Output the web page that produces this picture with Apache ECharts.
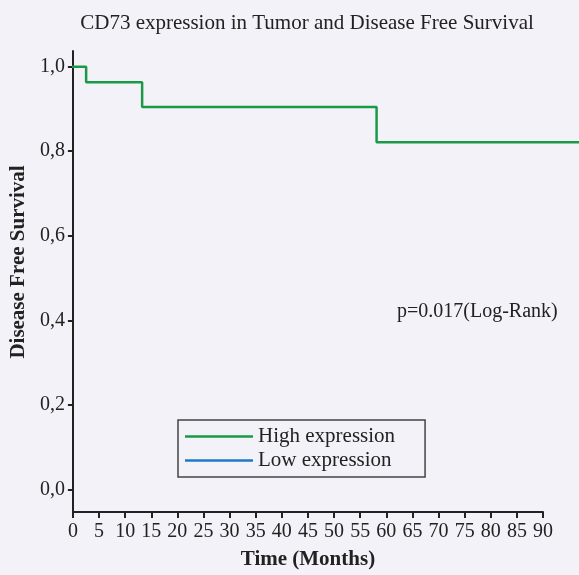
<!DOCTYPE html>
<html>
<head>
<meta charset="utf-8">
<script src="https://cdn.jsdelivr.net/npm/echarts@6/dist/echarts.min.js"></script>
<style>
  html, body { margin: 0; padding: 0; background: #f3f2f8; }
  #chart { width: 579px; height: 575px; }
</style>
</head>
<body>
<div id="chart"></div>
<script>
// Kaplan–Meier step points (time in months, disease free survival)
const highTimes = [0, 2.7, 13.4, 58.2, 96.9];
const highSurvival = [1.0, 0.964, 0.906, 0.823, 0.823];
const lowTimes = [];
const lowSurvival = [];

const xTicks = [0, 5, 10, 15, 20, 25, 30, 35, 40, 45, 50, 55, 60, 65, 70, 75, 80, 85, 90];
const yTicks = [0, 0.2, 0.4, 0.6, 0.8, 1.0];

const seriesNames = ['High expression', 'Low expression'];
const seriesColors = ['#1a9a48', '#1f78c8'];

const FONT = '"Liberation Serif", "DejaVu Serif", serif';
const INK = '#222222';
const Y_MIN = -0.053, Y_MAX = 1.037;

const zip = (xs, ys) => xs.map((x, i) => [x, ys[i]]);

const chart = echarts.init(document.getElementById('chart'), null, { renderer: 'canvas' });

chart.setOption({
  backgroundColor: '#f3f2f8',
  animation: false,
  title: {
    text: 'CD73 expression in Tumor and Disease Free Survival',
    left: 302, top: 8, textAlign: 'center',
    textStyle: { fontFamily: FONT, fontSize: 21, fontWeight: 'normal', color: INK }
  },
  legend: {
    data: seriesNames,
    orient: 'vertical',
    left: 178, top: 420,
    icon: 'rect',
    itemWidth: 68, itemHeight: 2.5,
    itemGap: 3,
    padding: [6, 30, 6, 7],
    borderColor: '#444', borderWidth: 1.5,
    textStyle: { fontFamily: FONT, fontSize: 21, color: INK }
  },
  graphic: [{
    type: 'text',
    left: 397, top: 302,
    style: { text: 'p=0.017(Log-Rank)', font: '20px ' + FONT, fill: INK }
  }],
  grid: [
    // visible axes frame
    { left: 72, top: 51, width: 471, height: 465 },
    // plotting area (curve continues beyond the last labelled tick)
    { left: 72, top: 51, right: 0, height: 465 }
  ],
  xAxis: [{
    gridIndex: 0, type: 'value', min: 0, max: 90, interval: 5,
    name: 'Time (Months)', nameLocation: 'middle', nameGap: 37,
    nameTextStyle: { fontFamily: FONT, fontSize: 21, fontWeight: 'bold', color: INK },
    axisLine: { show: true, onZero: false, lineStyle: { color: INK, width: 2 } },
    axisTick: { show: true, inside: false, length: 6, lineStyle: { color: INK, width: 2 },
                customValues: xTicks },
    axisLabel: { fontFamily: FONT, fontSize: 20, color: INK, margin: 10, customValues: xTicks },
    splitLine: { show: false }
  }, {
    gridIndex: 1, type: 'value', min: 0, max: (579 - 72) / (471 / 90),
    show: false
  }],
  yAxis: [{
    gridIndex: 0, type: 'value', min: Y_MIN, max: Y_MAX,
    name: 'Disease Free Survival', nameLocation: 'middle', nameGap: 37,
    nameTextStyle: { fontFamily: FONT, fontSize: 21, fontWeight: 'bold', color: INK,
                     padding: [0, 0, 0, 39] },
    axisLine: { show: true, onZero: false, lineStyle: { color: INK, width: 2 } },
    axisTick: { show: true, inside: false, length: 5, lineStyle: { color: INK, width: 2 },
                customValues: yTicks },
    axisLabel: { fontFamily: FONT, fontSize: 20, color: INK, margin: 8, customValues: yTicks,
                 formatter: v => v.toFixed(1).replace('.', ',') },
    splitLine: { show: false }
  }, {
    gridIndex: 1, type: 'value', min: Y_MIN, max: Y_MAX, show: false
  }],
  series: [{
    name: seriesNames[0], type: 'line', step: 'end',
    xAxisIndex: 1, yAxisIndex: 1,
    data: zip(highTimes, highSurvival),
    showSymbol: false, symbol: 'none',
    color: seriesColors[0],
    lineStyle: { color: seriesColors[0], width: 2.5 }
  }, {
    name: seriesNames[1], type: 'line', step: 'end',
    xAxisIndex: 1, yAxisIndex: 1,
    data: zip(lowTimes, lowSurvival),
    showSymbol: false, symbol: 'none',
    color: seriesColors[1],
    lineStyle: { color: seriesColors[1], width: 2.5 }
  }]
});
</script>
</body>
</html>
